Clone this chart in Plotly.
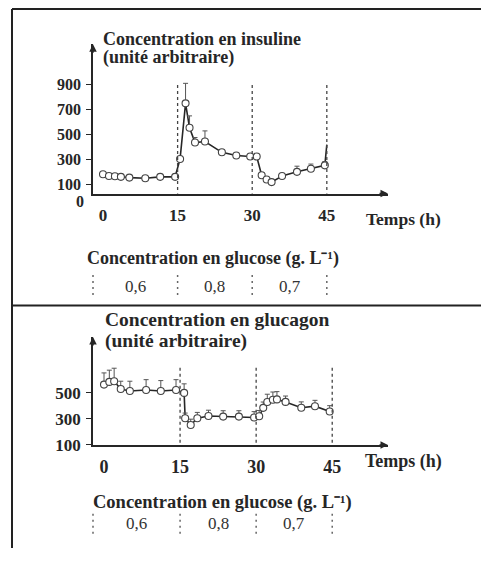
import plotly.graph_objects as go

# ---------------- data ----------------
hours_ins = [0, 1.2, 2.4, 3.6, 5.3, 8.5, 11.5, 14.5, 15.5, 16.6, 17.4, 18.5, 20.5,
             23.9, 26.8, 29.6, 30.9, 31.9, 32.9, 33.9, 36.0, 39.0, 41.8, 44.6, 45.0]
insulin = [184, 170, 168, 163, 157, 152, 163, 163, 306, 750, 555, 437, 445,
           359, 333, 325, 325, 176, 142, 121, 170, 203, 228, 255, 420]
insulin_err = [15, 15, 12, 12, 12, 12, 15, 15, 20, 160, 95, 40, 85,
               20, 20, 20, 20, 20, 15, 15, 20, 45, 37, 30, 0]

hours_glu = [0, 1.05, 2.0, 3.3, 5.1, 8.3, 11.2, 14.2, 15.8, 16.0, 17.1, 18.4, 20.6,
             23.5, 26.6, 29.6, 30.6, 31.4, 32.2, 33.3, 34.1, 35.8, 38.9, 41.6, 44.5]
glucagon = [564, 585, 590, 530, 515, 522, 515, 522, 500, 305, 253, 305, 322,
            318, 318, 311, 320, 385, 430, 447, 450, 431, 386, 398, 357]
glucagon_err = [90, 90, 100, 60, 75, 80, 80, 80, 70, 40, 45, 45, 45,
                45, 45, 45, 45, 45, 60, 60, 60, 45, 45, 45, 45]

x_ticks = [0, 15, 30, 45]
phase_bounds = [15, 30, 45]
ins_ticks = [100, 300, 500, 700, 900]
glu_ticks = [100, 300, 500]
glucose_levels = ["0,6", "0,8", "0,7"]

# ---------------- layout helpers ----------------
# the page body has an 8px margin on every side
OFF = 8
W, H = 489 - OFF, 566 - 2 * OFF
def px(x):
    return (x - OFF) / W
def py(y):
    return 1 - (y - OFF) / H

INK = "#262626"
FONT = "Liberation Serif"

fig = go.Figure()

def add_series(xs, ys, errs, xa, ya, n_marked):
    # connecting line through every point
    fig.add_trace(go.Scatter(
        x=xs, y=ys, mode="lines", xaxis=xa, yaxis=ya,
        line=dict(color=INK, width=1.6), showlegend=False, hoverinfo="skip"))
    # measured points with error bars
    fig.add_trace(go.Scatter(
        x=xs[:n_marked], y=ys[:n_marked], mode="markers", xaxis=xa, yaxis=ya,
        marker=dict(symbol="circle", size=7, color="white",
                    line=dict(color="#444444", width=1.1)),
        error_y=dict(type="data", array=errs[:n_marked], arrayminus=[0] * n_marked,
                     symmetric=False, color="#555555", thickness=1, width=2.5),
        showlegend=False, hoverinfo="x+y",
    ))

add_series(hours_ins, insulin, insulin_err, "x", "y", len(hours_ins) - 1)
add_series(hours_glu, glucagon, glucagon_err, "x2", "y2", len(hours_glu))

def tf(size):
    return dict(family=FONT, size=size, color=INK, weight="bold")

x1_range = [-2.01, 57.3]
y1_range = [29.4, 1221.6]
x2_range = [-2.17, 56.0]
y2_range = [100, 931]

common_x = dict(showline=True, linecolor=INK, linewidth=1.5, ticks="",
                showgrid=False, zeroline=False, tickvals=x_ticks,
                ticklabelstandoff=5, fixedrange=True)
common_y = dict(showline=True, linecolor=INK, linewidth=1.5, ticks="outside",
                ticklen=5, tickcolor=INK, showgrid=False, zeroline=False,
                ticklabelstandoff=2, fixedrange=True)

fig.update_layout(
    width=W, height=H, margin=dict(l=0, r=0, t=0, b=0),
    font=dict(family=FONT, color=INK),
    paper_bgcolor="white", plot_bgcolor="rgba(0,0,0,0)",
    xaxis=dict(domain=[px(93), px(388)], range=x1_range, anchor="y",
               tickfont=tf(17), **common_x),
    yaxis=dict(domain=[py(197), py(45)], range=y1_range, anchor="x",
               tickvals=ins_ticks, tickfont=tf(16), **common_y),
    xaxis2=dict(domain=[px(93), px(388)], range=x2_range, anchor="y2",
                tickfont=tf(18), **common_x),
    yaxis2=dict(domain=[py(453), py(343)], range=y2_range, anchor="x2",
                tickvals=glu_ticks, tickfont=tf(17), **common_y),
)

shapes = []
frame = dict(type="line", xref="paper", yref="paper", line=dict(color="#222222", width=2))
shapes.append(dict(frame, x0=px(12), x1=1, y0=py(9), y1=py(9)))
shapes.append(dict(frame, x0=px(12), x1=px(12), y0=py(9), y1=0))
shapes.append(dict(frame, x0=px(12), x1=1, y0=py(311), y1=py(311)))
shapes.append(dict(type="line", xref="paper", yref="paper", x0=px(487), x1=px(487),
                   y0=py(9), y1=0, line=dict(color="#dddddd", width=1)))

for b in phase_bounds:
    shapes.append(dict(type="line", xref="x", yref="y", x0=b, x1=b,
                       y0=y1_range[0] - 20, y1=915,
                       line=dict(color="#444444", width=1.3, dash="3px,3px")))
    shapes.append(dict(type="line", xref="x2", yref="y2", x0=b, x1=b,
                       y0=y2_range[0] - 30, y1=700,
                       line=dict(color="#444444", width=1.3, dash="3px,3px")))

annotations = []
def txt(text, x, y, size=18, weight="bold", xanchor="left", color=INK, xref="paper", yref="paper"):
    annotations.append(dict(text=text, x=x, y=y, xref=xref, yref=yref, showarrow=False,
                            xanchor=xanchor, yanchor="middle", borderpad=0,
                            font=dict(family=FONT, size=size, color=color, weight=weight)))

def glucose_row(xref, y_top, y_bot, dom_left):
    sep_style = dict(color="#666666", width=1.5, dash="2px,4px")
    shapes.append(dict(type="line", xref="paper", yref="paper", x0=dom_left, x1=dom_left,
                       y0=py(y_top), y1=py(y_bot), line=sep_style))
    for b in phase_bounds:
        shapes.append(dict(type="line", xref=xref, yref="paper", x0=b, x1=b,
                           y0=py(y_top), y1=py(y_bot), line=sep_style))

glucose_row("x", 280, 302, px(93))
glucose_row("x2", 523, 545, px(93))

def mids(rng_left):
    bounds = [rng_left] + phase_bounds
    return [(bounds[i] + bounds[i + 1]) / 2 for i in range(len(glucose_levels))]

for xv, lab in zip(mids(x1_range[0]), glucose_levels):
    txt(lab, xv, py(292), size=17, weight="normal", xanchor="center", color="#333333", xref="x")
for xv, lab in zip(mids(x2_range[0]), glucose_levels):
    txt(lab, xv, py(533), size=17, weight="normal", xanchor="center", color="#333333", xref="x2")

txt("Concentration en insuline", px(102), py(40), size=18)
txt("(unité arbitraire)", px(102), py(58), size=18)
txt("Temps (h)", px(365), py(223), size=17.5)
txt("Concentration en glucose (g. L⁻¹)", px(86), py(263), size=18)

txt("Concentration en glucagon", px(104), py(325), size=19.5)
txt("(unité arbitraire)", px(104), py(347), size=19.5)
txt("Temps (h)", px(364), py(470), size=18)
txt("Concentration en glucose (g. L⁻¹)", px(92), py(512), size=18.5)

# "0" label of the insulin axis (just below the axis line)
txt("0", px(85), py(205), size=16, xanchor="right")

def arrow(x, y, ax, ay):
    annotations.append(dict(text="", x=x, y=y, xref="paper", yref="paper", showarrow=True,
                            ax=ax, ay=ay, axref="pixel", ayref="pixel",
                            arrowhead=2, arrowsize=1, arrowwidth=1.5, arrowcolor=INK))

arrow(px(93), py(45), 0, 10)
arrow(px(388), py(197), -10, 0)
arrow(px(93), py(343), 0, 10)
arrow(px(388), py(453), -10, 0)

fig.update_layout(shapes=shapes, annotations=annotations)
fig.write_html("out.html")
